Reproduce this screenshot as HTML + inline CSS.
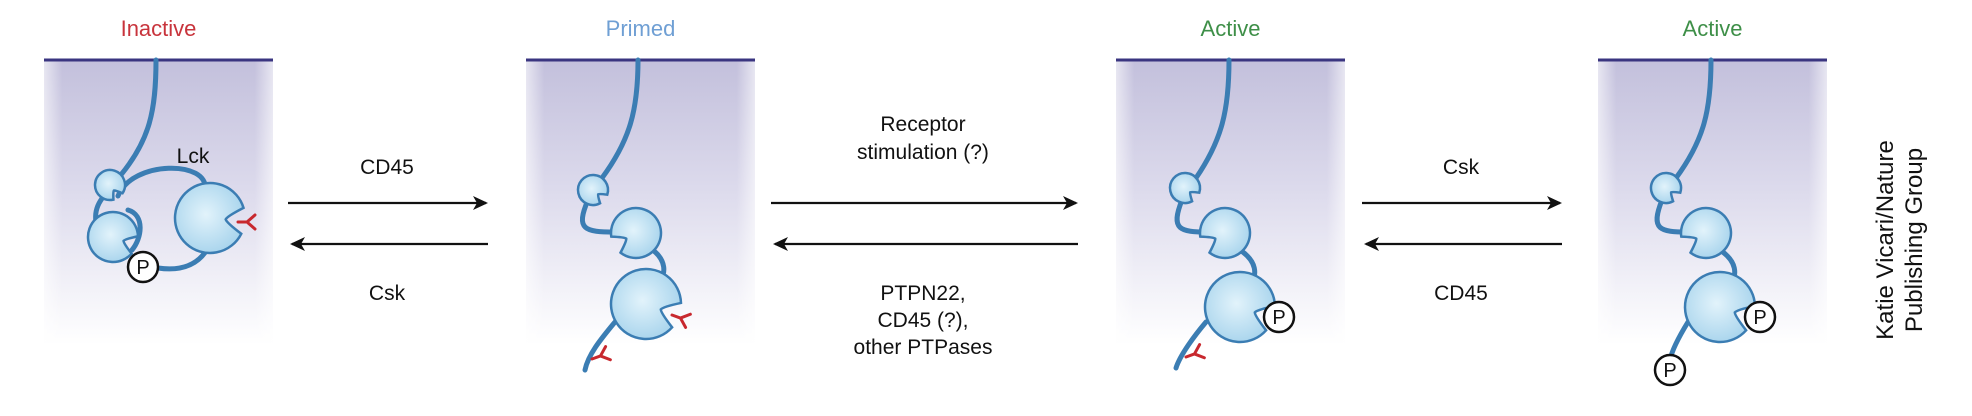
<!DOCTYPE html>
<html><head><meta charset="utf-8"><style>
html,body{margin:0;padding:0;background:#fff;}
svg{display:block;}
text{font-family:"Liberation Sans Narrow","Liberation Sans",sans-serif;}
</style></head><body>
<svg id="fig" width="1972" height="416" viewBox="0 0 1972 416" xmlns="http://www.w3.org/2000/svg">
<defs>
<linearGradient id="vfade" x1="0" y1="0" x2="0" y2="1">
<stop offset="0" stop-color="#c3c0dc"/><stop offset="0.45" stop-color="#dcdaec"/><stop offset="1" stop-color="#ffffff"/>
</linearGradient>
<linearGradient id="hfade" x1="0" y1="0" x2="1" y2="0">
<stop offset="0" stop-color="#fff" stop-opacity="0.6"/><stop offset="0.08" stop-color="#fff" stop-opacity="0"/><stop offset="0.92" stop-color="#fff" stop-opacity="0"/><stop offset="1" stop-color="#fff" stop-opacity="0.6"/>
</linearGradient>
<radialGradient id="dom" cx="0.45" cy="0.45" r="0.6">
<stop offset="0" stop-color="#e2f3fb"/><stop offset="1" stop-color="#a6d3ec"/>
</radialGradient>
<marker id="ah" markerWidth="16" markerHeight="16" refX="13" refY="8" orient="auto" markerUnits="userSpaceOnUse">
<path d="M0,1 L15,8 L0,15 L4,8 Z" fill="#111"/>
</marker>
</defs>
<g id="boxes"></g>
<g id="arrows"></g>
<g id="mols"></g>
<g id="labels"></g>
</svg>
<script>
const NS='http://www.w3.org/2000/svg';
const svg=document.getElementById('fig');
function mk(tag,attrs,parent){const e=document.createElementNS(NS,tag);for(const k in attrs)e.setAttribute(k,attrs[k]);(parent||svg).appendChild(e);return e;}
const boxesG=document.getElementById('boxes'),arrG=document.getElementById('arrows'),molG=document.getElementById('mols'),labG=document.getElementById('labels');

const boxX=[44,526,1116,1598];
const boxW=229;
const stateNames=['Inactive','Primed','Active','Active'];
const stateColors=['#c8343c','#6f9fd4','#3e8f48','#3e8f48'];
boxX.forEach((x,i)=>{
  const g=mk('g',{},boxesG);
  
  
  mk('rect',{x:x,y:60,width:boxW,height:285,fill:'url(#vfade)'},g);
  mk('rect',{x:x,y:60,width:boxW,height:285,fill:'url(#hfade)'},g);
  const l=mk('line',{x1:x,y1:60,x2:x+boxW,y2:60,stroke:'#3a3580','stroke-width':3},g);
  
  
  const t=mk('text',{x:x+boxW/2,y:36,'text-anchor':'middle','font-size':22,fill:stateColors[i]},labG);
  t.textContent=stateNames[i];
  
  
});

const arrowPairs=[[288,486],[771,1076],[1362,1560]];
arrowPairs.forEach((p,i)=>{
  const f=mk('line',{x1:p[0],y1:203,x2:p[1],y2:203,stroke:'#111','stroke-width':2.2,'marker-end':'url(#ah)'},arrG);
  
  
  const b=mk('line',{x1:p[1]+2,y1:244,x2:p[0]+4,y2:244,stroke:'#111','stroke-width':2.2,'marker-end':'url(#ah)'},arrG);
  
  
});
function label(txt,x,y,name,size){const t=mk('text',{x:x,y:y,'text-anchor':'middle','font-size':size||21,fill:'#111'},labG);t.textContent=txt;return t;}
label('CD45',387,174,'cd45-forward-label');
label('Csk',387,300,'csk-reverse-label');
label('Receptor',923,131,'receptor-label');
label('stimulation (?)',923,159,'stimulation-label');
label('PTPN22,',923,300,'ptpn22-label');
label('CD45 (?),',923,327,'cd45-question-label');
label('other PTPases',923,354,'other-ptpases-label');
label('Csk',1461,174,'csk-forward-label');
label('CD45',1461,300,'cd45-reverse-label');
label('Lck',193,163,'lck-label');
const cr=mk('text',{x:0,y:0,'text-anchor':'middle','font-size':24,fill:'#111','font-family':'Liberation Sans, sans-serif',transform:'translate(1893,240) rotate(-90)'},labG);
cr.textContent='Katie Vicari/Nature';


const cr2=mk('text',{x:0,y:0,'text-anchor':'middle','font-size':24,fill:'#111','font-family':'Liberation Sans, sans-serif',transform:'translate(1922,240) rotate(-90)'},labG);
cr2.textContent='Publishing Group';



const STROKE='#3b7db3';
function curve(d,parent,name){const p=mk('path',{d:d,fill:'none',stroke:STROKE,'stroke-width':5,'stroke-linecap':'round'},parent);return p;}
function pac(cx,cy,r,ang,parent,name){
  const a=ang*Math.PI/180,w=0.38;
  const x1=cx+r*Math.cos(a-w),y1=cy+r*Math.sin(a-w);
  const x2=cx+r*Math.cos(a+w),y2=cy+r*Math.sin(a+w);
  const nx=cx+r*0.45*Math.cos(a),ny=cy+r*0.45*Math.sin(a);
  const d=`M${x2},${y2} A${r},${r} 0 1 1 ${x1},${y1} Q${nx+ r*0.1*Math.cos(a-1.2)},${ny+r*0.1*Math.sin(a-1.2)} ${nx},${ny} Q${nx+r*0.1*Math.cos(a+1.2)},${ny+r*0.1*Math.sin(a+1.2)} ${x2},${y2} Z`;
  const p=mk('path',{d:d,fill:'url(#dom)',stroke:STROKE,'stroke-width':2.5},parent);
  return p;
}
function tyr(x,y,ang,parent,name){
  const g=mk('g',{transform:`translate(${x},${y}) rotate(${ang})`},parent);
  
  mk('path',{d:'M0,0 L9,0 M9,0 L17,-7 M9,0 L17,7',stroke:'#c8282e','stroke-width':3,fill:'none','stroke-linecap':'round'},g);
}
function phos(x,y,parent,name){
  const g=mk('g',{},parent);
  mk('circle',{cx:x,cy:y,r:15,fill:'#fff',stroke:'#111','stroke-width':2.5},g);
  const t=mk('text',{x:x,y:y+7,'text-anchor':'middle','font-size':20,fill:'#111'},g);t.textContent='P';
}

let g=mk('g',{},molG);
curve('M156,60 C156,110 150,140 120,176',g,'membrane-anchor');
curve('M118,196 C132,160 210,160 205,190',g,'sh3-kinase-linker');
curve('M104,196 C92,210 95,225 100,230',g,'sh3-sh2-linker');
curve('M128,210 C145,215 142,238 132,250',g,'sh2-loop');
curve('M158,268 C185,272 200,262 208,248',g,'c-tail');
pac(113,237,25,20,g,'sh2-domain');
pac(210,218,35,5,g,'kinase-domain');
pac(110,185,15,55,g,'sh3-domain');
tyr(238,222,0,g,'activation-tyrosine');
phos(143,267,g,'phospho-tyr505');

g=mk('g',{},molG);
curve('M638,60 C638,110 630,140 602,178',g,'membrane-anchor');
curve('M588,200 C575,230 585,232 615,232',g,'sh3-sh2-linker');
curve('M650,248 C668,260 665,275 660,280',g,'sh2-kinase-linker');
curve('M615,322 C600,340 588,355 585,370',g,'c-tail');
pac(593,190,15,40,g,'sh3-domain');
pac(636,233,25,150,g,'sh2-domain');
pac(646,304,35,20,g,'kinase-domain');
tyr(672,315,20,g,'activation-tyrosine');
tyr(592,359,-20,g,'tail-tyrosine');

g=mk('g',{},molG);
curve('M1229,60 C1229,110 1222,140 1196,178',g,'membrane-anchor');
curve('M1182,200 C1170,230 1180,232 1208,232',g,'sh3-sh2-linker');
curve('M1240,250 C1258,262 1256,275 1252,282',g,'sh2-kinase-linker');
curve('M1206,322 C1195,335 1180,355 1176,368',g,'c-tail');
pac(1185,188,15,40,g,'sh3-domain');
pac(1225,233,25,150,g,'sh2-domain');
pac(1240,307,35,20,g,'kinase-domain');
phos(1279,317,g,'phospho-tyr394');
tyr(1186,357,-20,g,'tail-tyrosine');

g=mk('g',{},molG);
curve('M1711,60 C1711,110 1704,140 1676,178',g,'membrane-anchor');
curve('M1662,200 C1650,230 1660,232 1688,232',g,'sh3-sh2-linker');
curve('M1720,250 C1738,262 1736,275 1732,282',g,'sh2-kinase-linker');
curve('M1688,322 C1680,335 1672,350 1670,360',g,'c-tail');
pac(1666,188,15,40,g,'sh3-domain');
pac(1706,233,25,150,g,'sh2-domain');
pac(1720,307,35,20,g,'kinase-domain');
phos(1760,317,g,'phospho-tyr394');
phos(1670,370,g,'phospho-tyr505');
</script>
</body></html>
